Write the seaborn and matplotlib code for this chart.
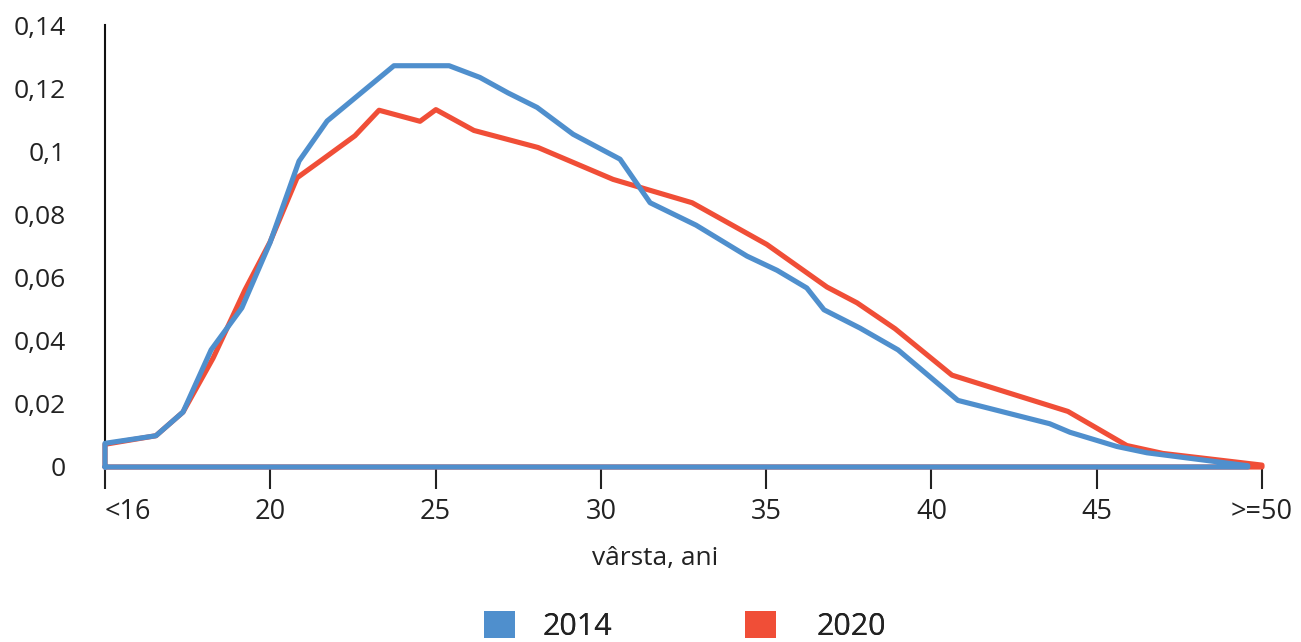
import numpy as np
import seaborn as sns
import matplotlib.pyplot as plt
from matplotlib.patches import Patch

# age (years, 15 = "<16", 50 = ">=50") and share of mothers by age
age_2014 = [15.0, 16.54, 17.36, 18.21, 19.14, 19.99, 20.87, 21.72, 23.74, 25.41,
            26.34, 27.19, 28.07, 29.16, 30.58, 31.49, 32.88, 34.42, 35.33, 36.23,
            36.75, 37.84, 38.99, 40.80, 43.58, 44.19, 45.61, 46.52, 49.57]
share_2014 = [0.0075, 0.0099, 0.0174, 0.0371, 0.0504, 0.0710, 0.0969, 0.1096, 0.1271, 0.1271,
              0.1234, 0.1185, 0.1139, 0.1054, 0.0975, 0.0837, 0.0766, 0.0668, 0.0623, 0.0567,
              0.0498, 0.0440, 0.0371, 0.0211, 0.0137, 0.0110, 0.0065, 0.0045, 0.0004]

age_2020 = [15.0, 16.54, 17.36, 18.27, 19.23, 19.99, 20.81, 21.59, 22.56, 23.29,
            24.53, 25.01, 26.16, 28.10, 30.37, 32.76, 35.02, 36.84, 37.75, 38.90,
            40.62, 44.13, 45.91, 47.00, 50.0]
share_2020 = [0.0072, 0.0099, 0.0174, 0.0345, 0.0560, 0.0712, 0.0916, 0.0975, 0.1049, 0.1130,
              0.1095, 0.1132, 0.1066, 0.1012, 0.0911, 0.0837, 0.0705, 0.0570, 0.0520, 0.0438,
              0.0291, 0.0176, 0.0068, 0.0043, 0.0006]

x_ticks = [15, 20, 25, 30, 35, 40, 45, 50]
x_labels = ["<16", "20", "25", "30", "35", "40", "45", ">=50"]
y_ticks = [0, 0.02, 0.04, 0.06, 0.08, 0.10, 0.12, 0.14]
y_labels = ["0", "0,02", "0,04", "0,06", "0,08", "0,1", "0,12", "0,14"]
years = ["2014", "2020"]

BLUE = "#4f8fcd"
RED = "#f04e37"
INK = "#222222"

sns.set_theme(style="white")
plt.rcParams["font.family"] = ["Open Sans", "DejaVu Sans"]


def closed(xs, ys):
    # outline of the area: drop to the baseline at both ends
    return [xs[0]] + list(xs) + [xs[-1], xs[0]], [0] + list(ys) + [0, 0]


fig = plt.figure(figsize=(13.01, 6.42), dpi=100)
ax = fig.add_axes([105 / 1301, 1 - 467 / 642, 1157 / 1301, 442 / 642])

for xs, ys, col in [(age_2020, share_2020, RED), (age_2014, share_2014, BLUE)]:
    cx, cy = closed(xs, ys)
    sns.lineplot(x=cx, y=cy, sort=False, estimator=None, color=col,
                 linewidth=3.7, ax=ax, clip_on=False, zorder=3)

ax.set_xlim(15, 50)
ax.set_ylim(0, 0.14)
ax.set_xticks(x_ticks)
ax.set_xticklabels(x_labels)
ax.set_yticks(y_ticks)
ax.set_yticklabels(y_labels)
ax.tick_params(axis="y", length=0, pad=28, labelsize=19, labelcolor=INK)
ax.tick_params(axis="x", length=16, width=1.5, color=INK, pad=6,
               labelsize=19.5, labelcolor=INK, bottom=True)
ax.get_xticklabels()[0].set_horizontalalignment("left")
for s in ["top", "right"]:
    ax.spines[s].set_visible(False)
for s in ["left", "bottom"]:
    ax.spines[s].set_color("#111111")
    ax.spines[s].set_linewidth(1.5)
ax.set_xlabel("")
ax.set_ylabel("")

fig.text(655 / 1301, 1 - 558 / 642, "vârsta, ani", ha="center", va="center",
         fontsize=19, color=INK)

# legend: one entry each, placed under the chart
for lab, col, left, pad in [(years[0], BLUE, 484, 0.9), (years[1], RED, 745, 1.35)]:
    leg = fig.legend([Patch(facecolor=col, edgecolor="none")], [lab],
                     loc="center left", bbox_to_anchor=(left / 1301, 0.024),
                     frameon=False, fontsize=22, handlelength=1.0, handleheight=1.0,
                     handletextpad=pad, borderpad=0, borderaxespad=0, labelcolor=INK)
    fig.add_artist(leg)

fig.savefig("out.png", dpi=100)
